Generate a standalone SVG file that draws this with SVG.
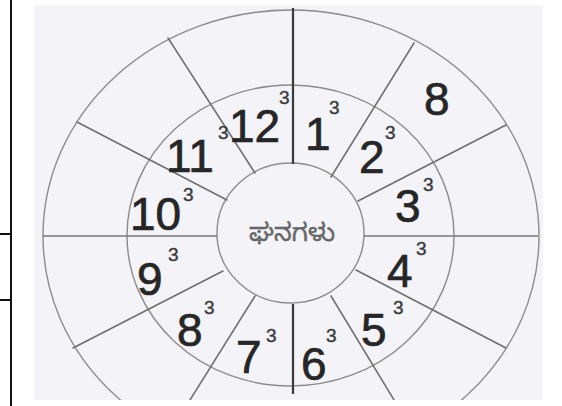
<svg xmlns="http://www.w3.org/2000/svg" width="562" height="406" viewBox="0 0 562 406">
  <style>
    .ring { fill: none; stroke: #8c8c8c; stroke-width: 1.4; }
    .spoke { stroke: #6e6e6e; stroke-width: 1.5; stroke-linecap: round; }
    .axis { stroke: #3a3a3a; stroke-width: 2.2; }
    .hline { stroke: #777; stroke-width: 1.5; }
    .num { font-family: "Liberation Sans", Arial, sans-serif; font-size: 46px; fill: #262626; stroke: #262626; stroke-width: 0.7; }
    .sup { font-family: "Liberation Sans", Arial, sans-serif; font-size: 19px; fill: #3a3a3a; stroke: #3a3a3a; stroke-width: 0.4; }
    .center { font-family: "Noto Sans Kannada", "Noto Sans", sans-serif; font-size: 25px; fill: #666; stroke: #666; stroke-width: 0.4; }
    .frame { stroke: #111; stroke-width: 2; }
  </style>
  <defs>
    <clipPath id="photo">
      <rect x="34" y="5" width="509" height="395"/>
    </clipPath>
  </defs>
  <rect width="562" height="406" fill="#ffffff"/>
  <g id="frame">
    <line class="frame" x1="11" y1="0" x2="11" y2="406"/>
    <line class="frame" x1="0" y1="234" x2="11" y2="234"/>
    <line class="frame" x1="0" y1="300" x2="11" y2="300"/>
  </g>
  <rect x="34" y="5" width="509" height="395" fill="#f3f3f8"/>
  <g id="rings" clip-path="url(#photo)">
    <ellipse class="ring" cx="291" cy="236" rx="248" ry="226"/>
    <ellipse class="ring" cx="290.5" cy="235.5" rx="163.5" ry="150.5"/>
    <ellipse class="ring" cx="290.5" cy="233" rx="73.5" ry="70"/>
  </g>
  <g id="connectors" clip-path="url(#photo)">
    <line class="axis" x1="293" y1="8" x2="293" y2="164"/>
    <line class="spoke" x1="331" y1="177" x2="414" y2="43"/>
    <line class="spoke" x1="358" y1="201" x2="506" y2="125"/>
    <line class="hline" x1="364" y1="236" x2="538" y2="236"/>
    <line class="spoke" x1="356" y1="270" x2="506" y2="348"/>
    <line class="spoke" x1="331" y1="296" x2="394" y2="400"/>
    <line class="axis" x1="293" y1="304" x2="293" y2="394"/>
    <line class="spoke" x1="255" y1="296" x2="190" y2="400"/>
    <line class="spoke" x1="223" y1="271" x2="73" y2="348"/>
    <line class="hline" x1="43" y1="236" x2="217" y2="236"/>
    <line class="spoke" x1="227" y1="200" x2="77" y2="122"/>
    <line class="spoke" x1="255" y1="173" x2="168" y2="38"/>
  </g>
  <g id="center">
    <text class="center" x="292" y="241" text-anchor="middle">ಘನಗಳು</text>
  </g>
  <g id="n1"><text class="num" x="305" y="150">1</text><text class="sup" x="329" y="114">3</text></g>
  <g id="n2"><text class="num" x="359" y="173">2</text><text class="sup" x="385" y="139">3</text></g>
  <g id="n3"><text class="num" x="395" y="222">3</text><text class="sup" x="423" y="191">3</text></g>
  <g id="n4"><text class="num" x="387" y="287">4</text><text class="sup" x="416" y="255">3</text></g>
  <g id="n5"><text class="num" x="361" y="346">5</text><text class="sup" x="393" y="314">3</text></g>
  <g id="n6"><text class="num" x="301" y="380">6</text><text class="sup" x="326" y="342">3</text></g>
  <g id="n7"><text class="num" x="236" y="373">7</text><text class="sup" x="266" y="342">3</text></g>
  <g id="n8"><text class="num" x="177" y="346">8</text><text class="sup" x="204" y="314">3</text></g>
  <g id="n9"><text class="num" x="137" y="295">9</text><text class="sup" x="168" y="261">3</text></g>
  <g id="n10"><text class="num" x="130" y="230">10</text><text class="sup" x="183" y="201">3</text></g>
  <g id="n11"><text class="num" x="166" y="172">11</text><text class="sup" x="218" y="139">3</text></g>
  <g id="n12"><text class="num" x="229" y="142">12</text><text class="sup" x="279" y="104">3</text></g>
  <g id="outer8"><text class="num" x="424" y="115">8</text></g>
</svg>
